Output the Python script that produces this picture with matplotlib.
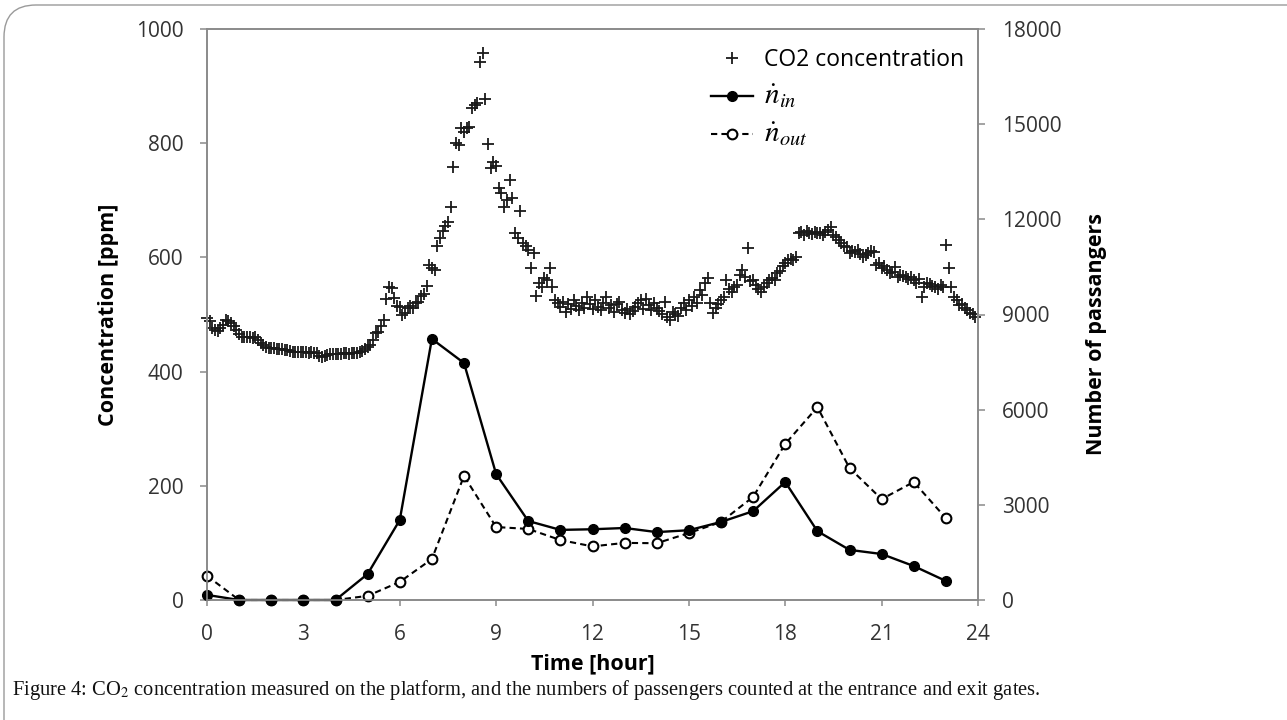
import numpy as np
import matplotlib
matplotlib.use("Agg")
import matplotlib.pyplot as plt
from matplotlib.patches import FancyBboxPatch
from matplotlib.transforms import IdentityTransform

plt.rcParams["font.family"] = ["Open Sans", "DejaVu Sans"]
plt.rcParams["mathtext.fontset"] = "stix"

# passenger counts per hour at the gates
hours = list(range(24))
n_in = [160, 0, 0, 0, 0, 820, 2520, 8230, 7470, 3970, 2490, 2210,
        2230, 2270, 2140, 2200, 2460, 2800, 3720, 2170, 1580, 1450, 1070, 600]
n_out = [760, 0, 0, 0, 0, 130, 570, 1290, 3910, 2300, 2240, 1890,
         1690, 1800, 1790, 2110, 2460, 3250, 4920, 6080, 4160, 3180, 3720, 2580]

# CO2 on the platform, one reading every 5 minutes (one row per hour)
co2_ppm = [
    494, 488, 476, 473, 471, 476, 482, 490, 488, 485, 480, 473,
    466, 460, 460, 461, 460, 459, 461, 455, 450, 446, 443, 442,
    441, 441, 440, 440, 439, 438, 437, 436, 435, 435, 434, 434,
    434, 434, 433, 434, 433, 432, 427, 426, 428, 429, 430, 430,
    430, 431, 431, 432, 432, 431, 432, 432, 433, 434, 436, 440,
    443, 447, 455, 467, 470, 480, 490, 527, 548, 546, 529, 515,
    513, 499, 503, 511, 515, 512, 520, 522, 532, 536, 550, 587,
    582, 578, 620, 634, 646, 655, 662, 688, 758, 800, 797, 826,
    819, 826, 828, 861, 867, 870, 942, 958, 877, 798, 756, 767,
    760, 721, 713, 688, 700, 735, 704, 643, 634, 681, 625, 620,
    613, 581, 608, 532, 555, 548, 564, 560, 581, 548, 525, 520,
    513, 522, 505, 518, 510, 526, 515, 508, 520, 512, 530, 518,
    510, 525, 514, 508, 520, 530, 512, 516, 505, 518, 522, 508,
    503, 510, 500, 506, 514, 520, 525, 510, 528, 516, 508, 520,
    512, 506, 500, 522, 495, 490, 505, 500, 498, 512, 520, 508,
    525, 515, 530, 520, 543, 535, 556, 564, 520, 503, 512, 518,
    525, 530, 560, 545, 540, 548, 552, 570, 578, 565, 616, 558,
    560, 552, 545, 539, 548, 556, 560, 564, 560, 572, 576, 585,
    590, 595, 598, 595, 600, 643, 644, 640, 646, 643, 641, 644,
    643, 642, 639, 645, 648, 653, 640, 636, 630, 625, 620, 618,
    608, 612, 610, 613, 606, 601, 604, 608, 612, 609, 587, 590,
    581, 585, 578, 572, 575, 583, 566, 570, 568, 566, 563, 565,
    560, 556, 562, 531, 548, 555, 553, 550, 548, 545, 552, 548,
    622, 581, 548, 531, 525, 516, 518, 511, 508, 503, 500, 496,
]
co2_time = np.arange(len(co2_ppm)) / 12.0

x_ticks = list(range(0, 25, 3))
ppm_ticks = list(range(0, 1001, 200))
pass_ticks = list(range(0, 18001, 3000))

spine_col = "#8a8a8a"
tick_col = "#333333"

fig = plt.figure(figsize=(12.87, 7.2), dpi=100)
ax = fig.add_axes([207 / 1287, 1 - 600 / 720, 771 / 1287, 571 / 720])
ax2 = ax.twinx()

co2_line, = ax.plot(co2_time, co2_ppm, ls="none", marker="+", ms=8, mew=1.3,
                    color="#1a1a1a", clip_on=False, label="CO2 concentration")
out_line, = ax2.plot(hours, n_out, ls="--", dashes=(3, 2), lw=1.5, color="black",
                     marker="o", ms=7, mfc="white", mec="black", mew=1.5,
                     clip_on=False, label=r"$\dot{n}_{out}$")
in_line, = ax2.plot(hours, n_in, ls="-", lw=1.7, color="black",
                    marker="o", ms=7, clip_on=False, label=r"$\dot{n}_{in}$")

ax.set_xlim(0, 24)
ax.set_ylim(0, 1000)
ax2.set_ylim(0, 18000)
ax.set_xticks(x_ticks)
ax.set_yticks(ppm_ticks)
ax2.set_yticks(pass_ticks)

for a in (ax, ax2):
    for s in a.spines.values():
        s.set_color(spine_col)
        s.set_linewidth(1.2)
    a.tick_params(direction="out", color=spine_col, width=1.1, length=5,
                  labelsize=15, labelcolor=tick_col)
ax.tick_params(axis="y", pad=12)
ax.tick_params(axis="x", length=4, pad=13)
ax2.tick_params(axis="y", pad=12)

ax.set_xlabel("Time [hour]", fontsize=15.5, fontweight="bold")
ax.set_ylabel("Concentration [ppm]", fontsize=15.5, fontweight="bold")
ax2.set_ylabel("Number of passangers", fontsize=15.5, fontweight="bold")
ax.xaxis.set_label_coords(0.5, -0.094)
ax.yaxis.set_label_coords(-0.114, 0.5)
ax2.yaxis.set_label_coords(1.140, 0.465)

leg = ax2.legend([co2_line, in_line, out_line],
                 ["CO2 concentration", r"$\dot{n}_{in}$", r"$\dot{n}_{out}$"],
                 loc="upper right", bbox_to_anchor=(1.0, 0.99), frameon=False,
                 fontsize=16.5, handlelength=1.8, handletextpad=0.5,
                 labelspacing=0.4, borderaxespad=0.2)
for t in leg.get_texts()[1:]:
    t.set_fontsize(21)

# rounded frame around the figure and the caption
frame = FancyBboxPatch((4, -60), 1340, 775,
                       boxstyle="round,pad=0,rounding_size=32",
                       transform=IdentityTransform(), fill=False,
                       edgecolor="#9a9a9a", linewidth=1.0)
fig.add_artist(frame)

fig.text(12 / 1287, 1 - 690 / 720,
         "Figure 4: CO$_2$ concentration measured on the platform, and the numbers "
         "of passengers counted at the entrance and exit gates.",
         family="Liberation Serif", fontsize=14.8, va="center", ha="left",
         color="#111111")

fig.savefig("out.png", dpi=100)
